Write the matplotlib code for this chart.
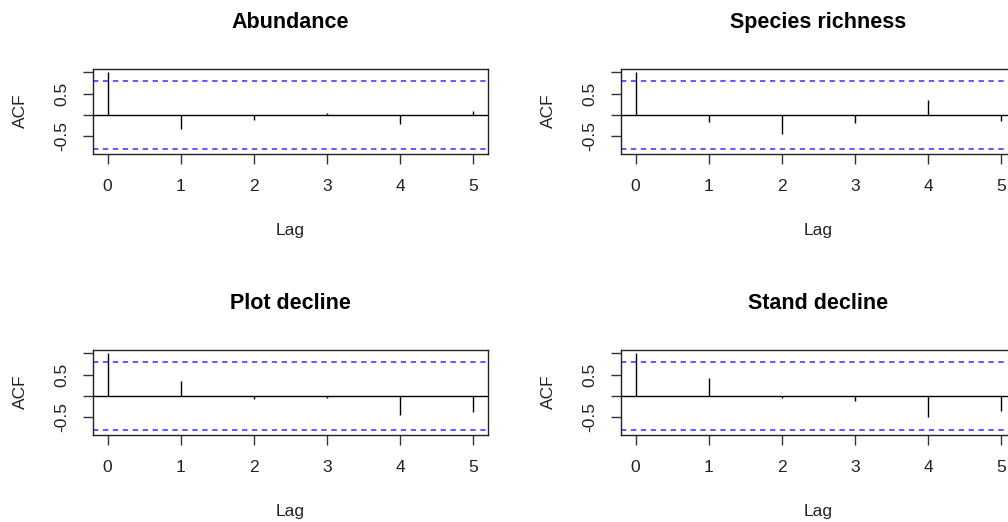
import numpy as np
import matplotlib
matplotlib.use('Agg')
import matplotlib.pyplot as plt

plt.rcParams['font.family'] = ['Liberation Sans', 'DejaVu Sans']

lags = [0, 1, 2, 3, 4, 5]
titles = ['Abundance', 'Species richness', 'Plot decline', 'Stand decline']
abundance = [1.0, -0.33, -0.125, 0.04, -0.22, 0.085]
richness = [1.0, -0.155, -0.455, -0.195, 0.355, -0.14]
plot_decline = [1.0, 0.355, -0.07, -0.045, -0.455, -0.375]
stand_decline = [1.0, 0.43, -0.04, -0.12, -0.48, -0.355]
series = [abundance, richness, plot_decline, stand_decline]
n_obs = 6
clim = 1.96 / np.sqrt(n_obs)

W, H = 1008, 522
fig = plt.figure(figsize=(W / 100, H / 100), dpi=100)

# panel boxes in pixels: left, top (the right column runs past the picture edge)
boxes = [(93, 68.5), (621, 68.5), (93, 349.5), (621, 349.5)]
bw, bh = 395, 85

for (x0, y0), title, acf in zip(boxes, titles, series):
    ax = fig.add_axes([x0 / W, (H - y0 - bh) / H, bw / W, bh / H])
    ax.vlines(lags, 0, acf, color='black', lw=1)
    ax.axhline(0, color='black', lw=1)
    ax.axhline(clim, color='#3030ff', lw=1.1, ls=(0, (3.5, 3)))
    ax.axhline(-clim, color='#3030ff', lw=1.1, ls=(0, (3.5, 3)))
    ax.set_xlim(-0.2, 5.2)
    ax.set_ylim(-0.9, 1.09)
    ax.set_xticks(lags)
    ax.set_xticklabels([str(l) for l in lags])
    ax.set_yticks([-0.5, 0, 0.5, 1.0])
    ax.set_yticklabels(['-0.5', '', '0.5', ''], rotation=90, va='center')
    ax.tick_params(axis='both', length=7.2, width=1, color='#333333',
                   labelsize=12.5, colors='#222222')
    ax.tick_params(axis='x', pad=11)
    ax.tick_params(axis='y', pad=10)
    for s in ax.spines.values():
        s.set_color('#222222')
        s.set_linewidth(1)
    ax.set_title(title, fontsize=15.5, fontweight='bold', pad=29)
    ax.set_xlabel('Lag', fontsize=12.5, labelpad=21, color='#222222')
    ax.set_ylabel('ACF', fontsize=12.5, labelpad=19, color='#222222')

fig.savefig('out.png', dpi=100)
